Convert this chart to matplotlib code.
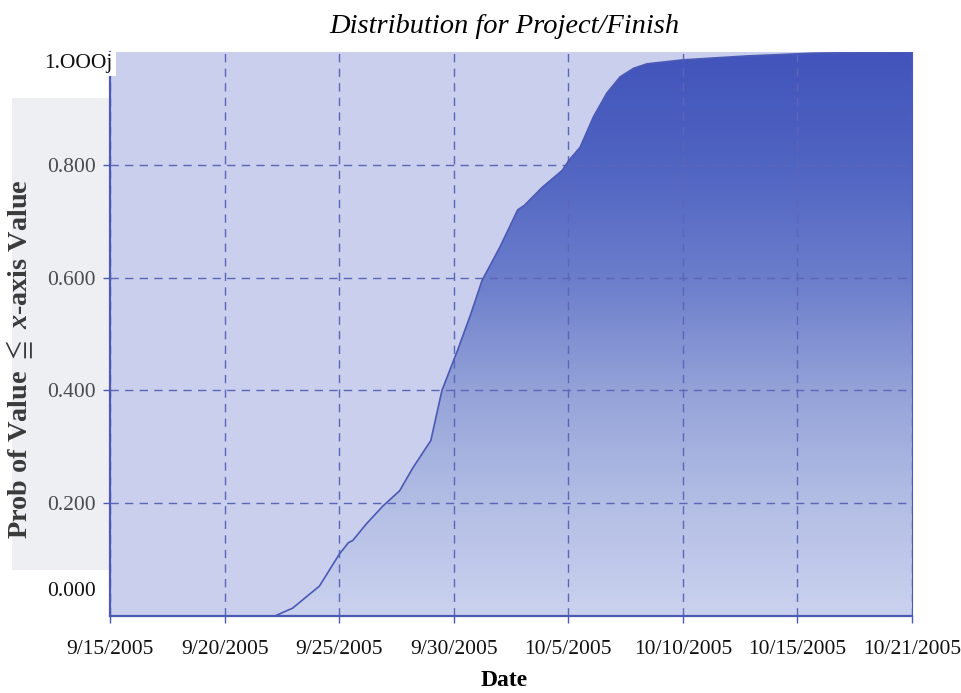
import matplotlib
matplotlib.use("Agg")
import matplotlib.pyplot as plt
import matplotlib.patches as patches
from matplotlib.colors import LinearSegmentedColormap
import numpy as np

plt.rcParams['font.family'] = ['Liberation Serif', 'DejaVu Serif']
plt.rcParams['mathtext.fontset'] = 'custom'
plt.rcParams['mathtext.rm'] = 'Liberation Serif:bold'
plt.rcParams['mathtext.it'] = 'Liberation Serif:italic:bold'
plt.rcParams['mathtext.fallback'] = 'stix'

# days after 9/15/2005 and cumulative probability
start_date = "9/15/2005"
days = [0, 7.4, 8.2, 9.4, 10.3, 10.7, 10.9, 11.5, 12.25, 13.0, 13.6, 14.4,
        14.9, 15.6, 16.2, 16.7, 17.5, 18.3, 18.6, 19.4, 20.3, 20.6, 21.1,
        21.7, 22.3, 22.9, 23.5, 24.1, 25.7, 28.6, 31.6, 36.0]
prob = [0, 0, 0.014, 0.053, 0.11, 0.13, 0.134, 0.163, 0.195, 0.222, 0.263,
        0.311, 0.40, 0.471, 0.536, 0.595, 0.654, 0.72, 0.728, 0.76, 0.79,
        0.808, 0.831, 0.885, 0.927, 0.956, 0.971, 0.979, 0.986, 0.993,
        0.998, 1.0]

date_labels = ["9/15/2005", "9/20/2005", "9/25/2005", "9/30/2005",
               "10/5/2005", "10/10/2005", "10/15/2005", "10/21/2005"]
ytick_vals = [0.2, 0.4, 0.6, 0.8]
ytick_labels = ["0.200", "0.400", "0.600", "0.800"]

days = np.array(days)
prob = np.array(prob)

blue = '#4a5ab5'
grid_blue = '#5b66b8'
fs = 15.5

fig = plt.figure(figsize=(9.62, 6.93), dpi=100)
fig.patch.set_facecolor('white')

# light grey panel behind the y label (scan background)
fig.patches.append(patches.Rectangle((12 / 962, (693 - 570) / 693), 98 / 962, 472 / 693,
                                     transform=fig.transFigure, facecolor='#eeeff3',
                                     edgecolor='none', zorder=-5))

ax = fig.add_axes([110 / 962, (693 - 616) / 693, 802 / 962, 564 / 693])
ax.set_facecolor('#c9cfec')
ax.set_xlim(0, 36)
ax.set_ylim(0, 1)

# gradient fill under the curve
cmap = LinearSegmentedColormap.from_list('fill', [
    (0.0, '#cbd2ef'), (0.2, '#b3bee5'), (0.4, '#94a2d8'),
    (0.6, '#6b7dcb'), (0.8, '#5064c2'), (1.0, '#4254bb')])
poly = ax.fill_between(days, prob, 0, color='none', lw=0)
grad = np.linspace(0, 1, 256).reshape(-1, 1)
img = ax.imshow(grad, cmap=cmap, aspect='auto', origin='lower',
                extent=[0, 36, 0, 1], zorder=1)
img.set_clip_path(poly.get_paths()[0], transform=ax.transData)
ax.plot(days, prob, color=blue, lw=1.2, zorder=3)

# ticks
ax.set_xticks(np.linspace(0, 36, 8))
ax.set_xticklabels(date_labels)
ax.set_yticks(ytick_vals)
ax.set_yticklabels(ytick_labels)
ax.tick_params(axis='both', colors=blue, length=5, width=1, labelsize=fs,
               labelcolor='#111111')
ax.tick_params(axis='x', pad=12)
ax.tick_params(axis='y', pad=5)
for lab in ax.get_yticklabels():
    lab.set_color('#4a4a4a')

ax.grid(True, color=grid_blue, linestyle=(0, (6, 4.5)), linewidth=1, zorder=2)
ax.set_axisbelow(False)

for side in ['left', 'bottom']:
    ax.spines[side].set_color(blue)
    ax.spines[side].set_linewidth(1.6)
    ax.spines[side].set_zorder(4)
ax.spines['right'].set_color(blue)
ax.spines['right'].set_linewidth(0.8)
ax.spines['top'].set_visible(False)

# end labels sit off their ticks in the original
ax.annotate("0.000", xy=(0, 0), xycoords=('axes fraction', 'data'),
            xytext=(-10, 18), textcoords='offset points', ha='right', va='center',
            fontsize=fs, color='#111111',
            bbox=dict(facecolor='white', edgecolor='none', pad=4), zorder=5)
ax.annotate("1.OOOj", xy=(0, 1), xycoords=('axes fraction', 'data'),
            xytext=(2, -8.5), textcoords='offset points', ha='right', va='center',
            fontsize=fs, color='#111111',
            bbox=dict(facecolor='white', edgecolor='none', pad=2), zorder=5,
            annotation_clip=False)

ax.set_title("Distribution for Project/Finish", fontsize=20.5, style='italic',
             pad=14, x=0.492)
ax.set_xlabel("Date", fontsize=17, fontweight='bold')
ax.xaxis.set_label_coords(0.492, -0.095)
ax.set_ylabel(r"Prob of Value $\leqq$ $x$-axis Value", fontsize=20.3,
              fontweight='bold', color='#3a3a3a')
ax.yaxis.set_label_coords(-0.093, 0.456)

fig.savefig("out.png", dpi=100)
